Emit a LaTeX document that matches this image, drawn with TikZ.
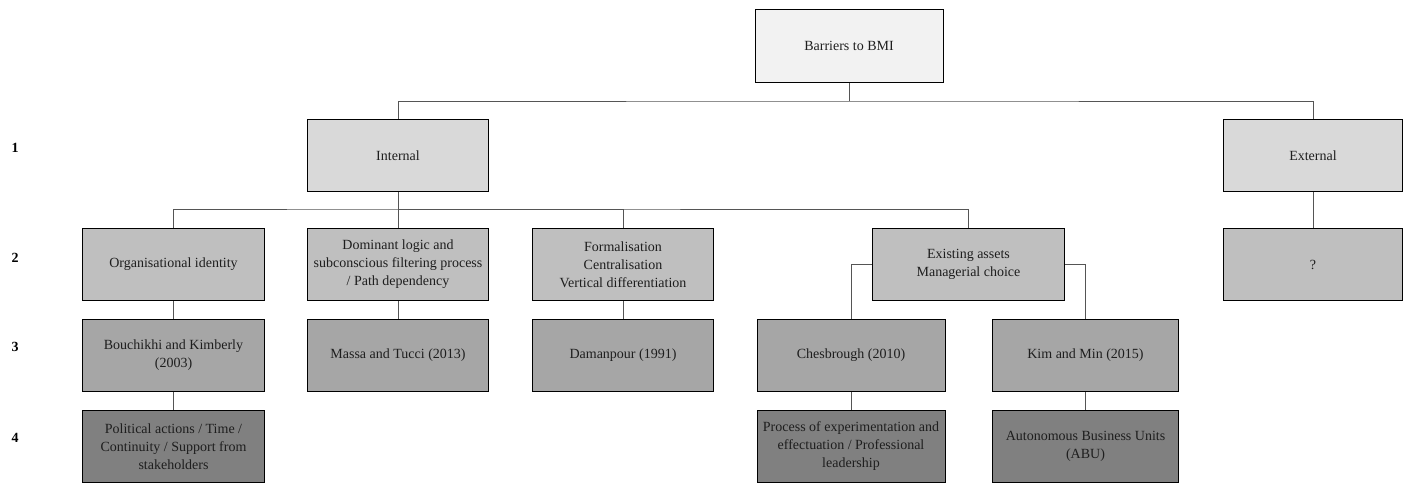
\documentclass[tikz,border=0pt]{standalone}
\usepackage{fontspec}
\setmainfont{Liberation Serif}
\usetikzlibrary{positioning}

\definecolor{rootfill}{RGB}{242,242,242}
\definecolor{onefill}{RGB}{217,217,217}
\definecolor{twofill}{RGB}{191,191,191}
\definecolor{threefill}{RGB}{166,166,166}
\definecolor{fourfill}{RGB}{128,128,128}
\definecolor{linkgray}{RGB}{85,85,85}
\definecolor{textdark}{RGB}{30,30,30}

\begin{document}
\begin{tikzpicture}[
  x=0.75pt, y=-0.75pt,
  font=\fontsize{10.5pt}{13.5pt}\selectfont,
  box/.style={rectangle, draw=black, line width=0.7pt, align=center,
    text=textdark, minimum width=136pt, minimum height=54.5pt, inner sep=2pt},
  rootbox/.style={box, fill=rootfill, minimum width=141pt},
  lvlone/.style={box, fill=onefill},
  lvltwo/.style={box, fill=twofill},
  lvlthree/.style={box, fill=threefill},
  lvlfour/.style={box, fill=fourfill},
  link/.style={draw=linkgray, line width=0.7pt},
  lvlnum/.style={font=\fontsize{10.5pt}{12pt}\selectfont\bfseries, text=black}
]
\useasboundingbox (0,0) rectangle (1407,484);

% level numbers
\node[lvlnum] (n1) at (15,148) {1};
\node[lvlnum] (n2) at (15,258) {2};
\node[lvlnum] (n3) at (15,347) {3};
\node[lvlnum] (n4) at (15,438) {4};

% top
\node[rootbox] (root) at (849,46) {Barriers to BMI};

% level 1
\node[lvlone] (internal) at (398,155.5) {Internal};
\node[lvlone, minimum width=134pt] (external) at (1313,155.5) {External};

% level 2
\node[lvltwo] (orgid) at (173.5,264.5) {Organisational identity};
\node[lvltwo] (dominant) at (398,264.5) {Dominant logic and\\subconscious filtering process\\/ Path dependency};
\node[lvltwo] (formal) at (623,264.5) {Formalisation\\Centralisation\\Vertical differentiation};
\node[lvltwo, minimum width=144.5pt] (existing) at (968.5,264.5) {Existing assets\\Managerial choice};
\node[lvltwo, minimum width=134pt] (unknown) at (1313,264.5) {?};

% level 3
\node[lvlthree] (bouchikhi) at (173.5,355.5) {Bouchikhi and Kimberly\\(2003)};
\node[lvlthree] (massa) at (398,355.5) {Massa and Tucci (2013)};
\node[lvlthree] (damanpour) at (623,355.5) {Damanpour (1991)};
\node[lvlthree, minimum width=141pt] (chesbrough) at (851,355.5) {Chesbrough (2010)};
\node[lvlthree, minimum width=140pt] (kimmin) at (1085.5,355.5) {Kim and Min (2015)};

% level 4
\node[lvlfour] (political) at (173.5,446.5) {Political actions / Time /\\Continuity / Support from\\stakeholders};
\node[lvlfour, minimum width=141pt] (process) at (851,446.5) {Process of experimentation and\\effectuation / Professional\\leadership};
\node[lvlfour, minimum width=140pt] (abu) at (1085.5,446.5) {Autonomous Business Units\\(ABU)};

% connectors
\coordinate (busA) at (849,101);
\coordinate (busB) at (398,209);
\draw[link] (root) -- (busA);
\draw[link] (internal.north) |- (busA) -| (external.north);
\draw[link] (internal) -- (dominant);
\draw[link] (orgid.north) |- (busB) -| (existing.north);
\draw[link] (busB) -| (formal.north);
\draw[link] (external) -- (unknown);
\draw[link] (orgid) -- (bouchikhi);
\draw[link] (bouchikhi) -- (political);
\draw[link] (dominant) -- (massa);
\draw[link] (formal) -- (damanpour);
\draw[link] (existing.west) -| (chesbrough.north);
\draw[link] (existing.east) -| (kimmin.north);
\draw[link] (chesbrough) -- (process);
\draw[link] (kimmin) -- (abu);
\end{tikzpicture}
\end{document}
